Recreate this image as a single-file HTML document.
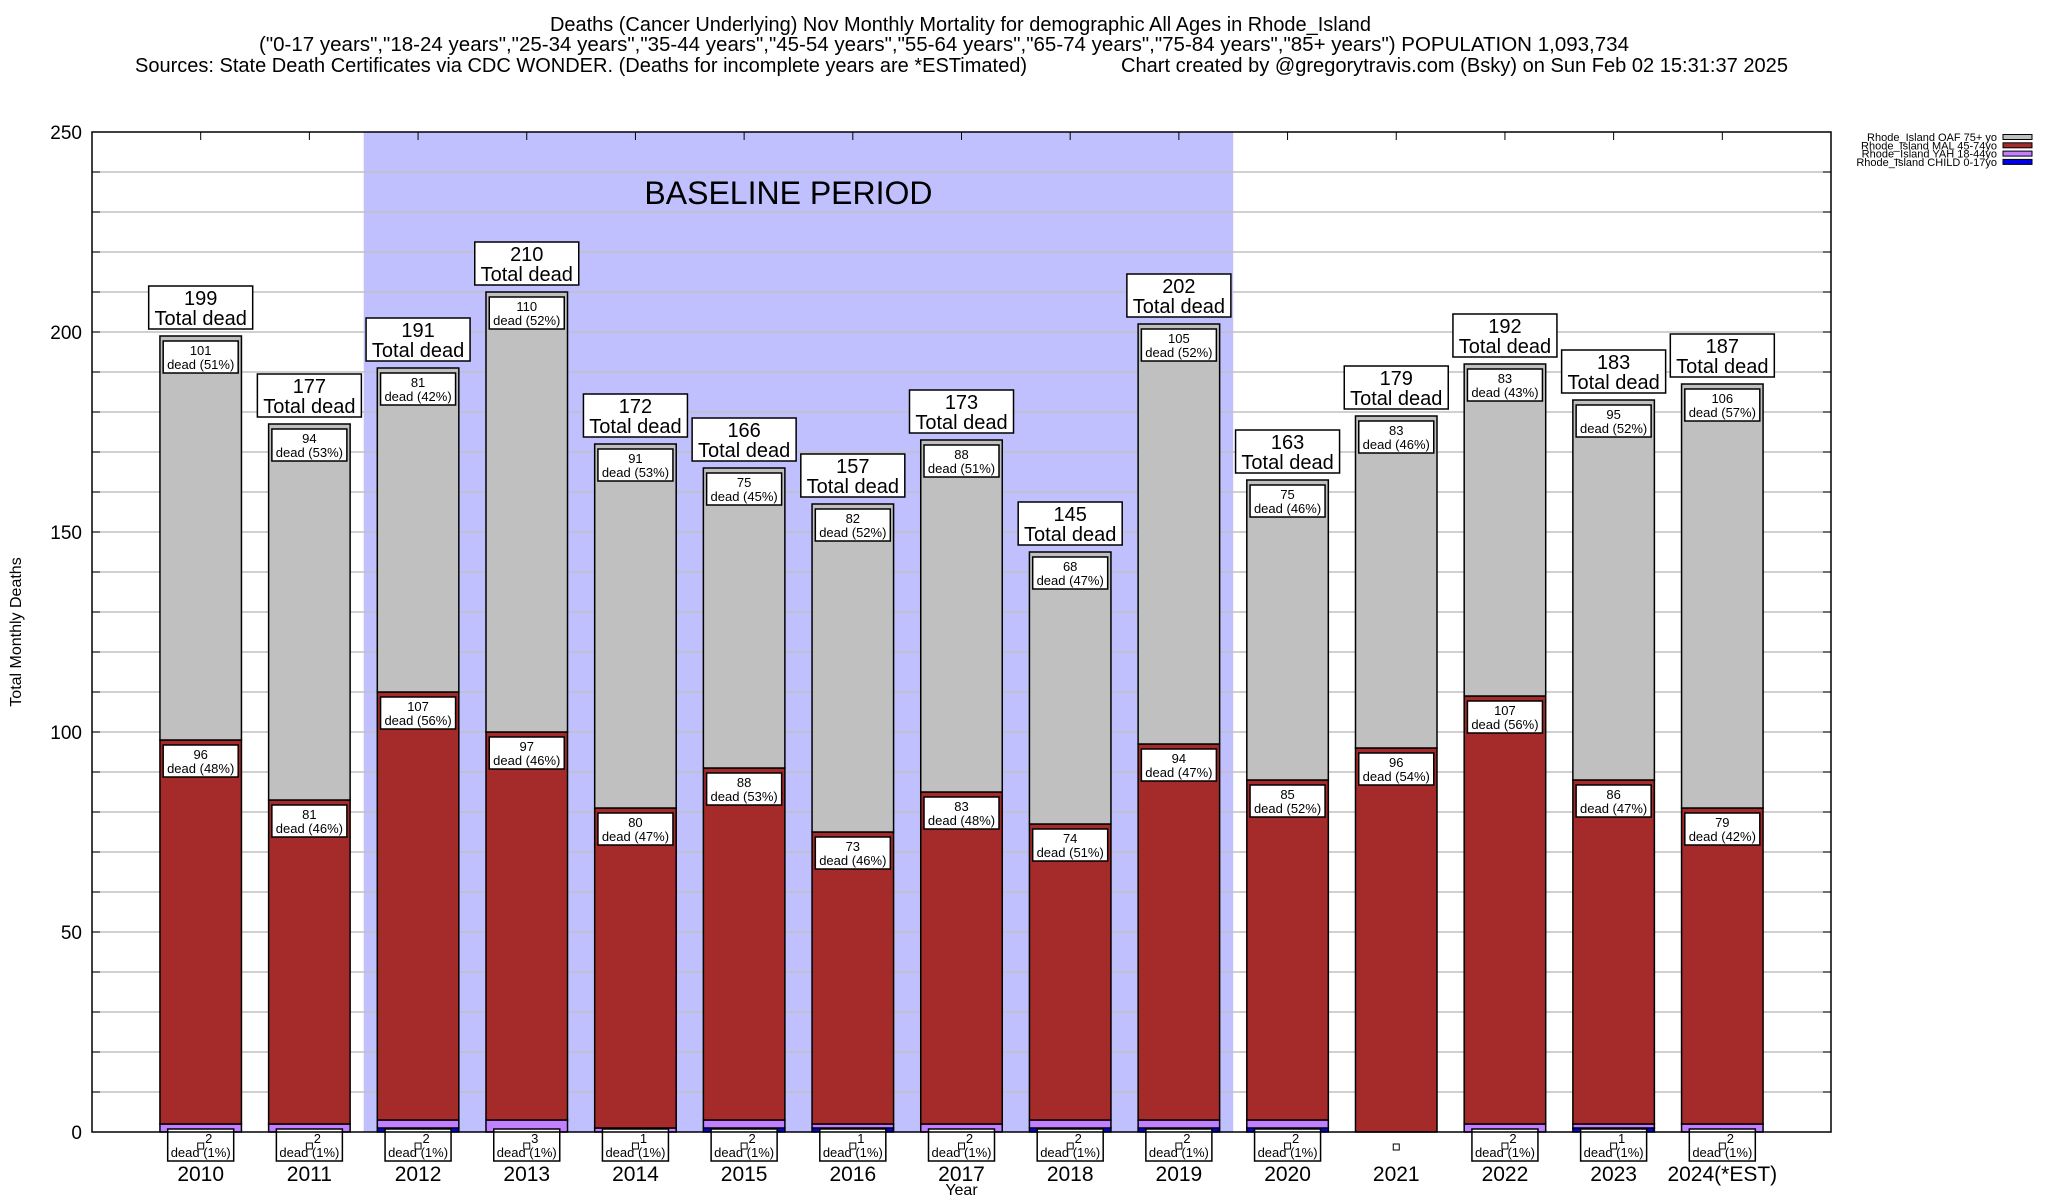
<!DOCTYPE html>
<html><head><meta charset="utf-8"><style>
body{margin:0;background:#fff;}
svg{display:block;font-family:"Liberation Sans",sans-serif;}
</style></head><body>
<svg id="chart" width="2048" height="1200" viewBox="0 0 2048 1200" xmlns="http://www.w3.org/2000/svg">
<g font-size="20" fill="#000">
<text x="550" y="31" textLength="821" lengthAdjust="spacingAndGlyphs">Deaths (Cancer Underlying) Nov Monthly Mortality for demographic All Ages in Rhode_Island</text>
<text x="259" y="51" textLength="1370" lengthAdjust="spacingAndGlyphs">("0-17 years","18-24 years","25-34 years","35-44 years","45-54 years","55-64 years","65-74 years","75-84 years","85+ years") POPULATION 1,093,734</text>
<text x="135" y="72" textLength="892" lengthAdjust="spacingAndGlyphs">Sources: State Death Certificates via CDC WONDER. (Deaths for incomplete years are *ESTimated)</text>
<text x="1121" y="72" textLength="667" lengthAdjust="spacingAndGlyphs">Chart created by @gregorytravis.com (Bsky) on Sun Feb 02 15:31:37 2025</text>
</g>
<g id="plot"></g>
</svg>
<script>
const years=["2010","2011","2012","2013","2014","2015","2016","2017","2018","2019","2020","2021","2022","2023","2024(*EST)"];
const child=[0,0,1,0,0,1,1,0,1,1,1,0,0,1,0];
const yah=[2,2,2,3,1,2,1,2,2,2,2,0,2,1,2];
const mal=[96,81,107,97,80,88,73,83,74,94,85,96,107,86,79];
const oaf=[101,94,81,110,91,75,82,88,68,105,75,83,83,95,106];
const yTicks=[0,50,100,150,200,250];
const baselineStart=2, baselineEnd=9;

const NS="http://www.w3.org/2000/svg";
const L=92,R=1831,T=132,B=1132,YMAX=250;
const step=(R-L)/(years.length+1);
const bw=step*0.75;
const X=i=>L+(i+1)*step;
const Y=v=>B-(v/YMAX)*(B-T);
const g=document.getElementById('plot');
function mk(tag,attrs,parent){const e=document.createElementNS(NS,tag);for(const k in attrs)e.setAttribute(k,attrs[k]);(parent||g).appendChild(e);return e;}

const bg=mk('rect',{x:L,y:T,width:R-L,height:B-T,fill:'#fff'});


const bs=mk('rect',{x:X(baselineStart)-step/2,y:T,width:(baselineEnd-baselineStart+1)*step,height:B-T,fill:'#c0c0ff'});


for(let v=10;v<YMAX;v+=10){
 const l=mk('line',{x1:L,x2:R,y1:Y(v),y2:Y(v),stroke:'#c0c0c0','stroke-width':1.5});
 
 
 const t1=mk('line',{x1:L,x2:L+8,y1:Y(v),y2:Y(v),stroke:'#000','stroke-width':1});
 
 
 const t2=mk('line',{x1:R-8,x2:R,y1:Y(v),y2:Y(v),stroke:'#000','stroke-width':1});
 
 
}
const bl=mk('text',{x:(X(baselineStart)+X(baselineEnd))/2-10,y:204,'font-size':32,'text-anchor':'middle'});
bl.textContent='BASELINE PERIOD';



yTicks.forEach(v=>{
 const t=mk('text',{x:L-10,y:Y(v)+7,'font-size':19,'text-anchor':'end'});
 t.textContent=v;
 
 
});

function segLabel(cx,ytop,val,pct){
 const grp=mk('g',{});
 
 
 mk('rect',{x:cx-37.5,y:ytop+5,width:75,height:32,fill:'#fff',stroke:'#000','stroke-width':1.5},grp);
 const a=mk('text',{x:cx,y:ytop+19,'font-size':13,'text-anchor':'middle'},grp);a.textContent=val;
 const b=mk('text',{x:cx,y:ytop+33,'font-size':13,'text-anchor':'middle'},grp);b.textContent='dead ('+pct+'%)';
}

years.forEach((yr,i)=>{
 const cx=X(i),x0=cx-bw/2;
 const total=child[i]+yah[i]+mal[i]+oaf[i];
 const segs=[[child[i],'#0000ee','bar-child'],[yah[i],'#c080ff','bar-yah'],[mal[i],'#a52a2a','bar-mal'],[oaf[i],'#c0c0c0','bar-oaf']];
 let base=0;
 segs.forEach(s=>{
  if(s[0]>0){
   const r=mk('rect',{x:x0,y:Y(base+s[0]),width:bw,height:Y(base)-Y(base+s[0]),fill:s[1],stroke:'#000','stroke-width':1.5});
   
   
  }
  base+=s[0];
 });
 segLabel(cx,Y(total),oaf[i],Math.round(oaf[i]/total*100));
 segLabel(cx,Y(child[i]+yah[i]+mal[i]),mal[i],Math.round(mal[i]/total*100));
 const yg=mk('g',{});
 
 
 if(yah[i]>0){
  mk('rect',{x:cx-33,y:B-3,width:66,height:32,fill:'#fff',stroke:'#000','stroke-width':1.5},yg);
  const a=mk('text',{x:cx+8,y:B+11,'font-size':13,'text-anchor':'middle'},yg);a.textContent=yah[i];
  const b=mk('text',{x:cx,y:B+25,'font-size':13,'text-anchor':'middle'},yg);b.textContent='dead  ('+Math.round(yah[i]/total*100)+'%)';
  mk('rect',{x:cx-3,y:B+11,width:6,height:6,fill:'#fff',stroke:'#000','stroke-width':1},yg);
 } else {
  mk('rect',{x:cx-3,y:B+12,width:6,height:6,fill:'#fff',stroke:'#000','stroke-width':1},yg);
 }
 const tg=mk('g',{});
 
 
 mk('rect',{x:cx-52,y:Y(total)-50,width:104,height:43,fill:'#fff',stroke:'#000','stroke-width':1.5},tg);
 const a=mk('text',{x:cx,y:Y(total)-31,'font-size':20,'text-anchor':'middle'},tg);a.textContent=total;
 const b=mk('text',{x:cx,y:Y(total)-11,'font-size':20,'text-anchor':'middle'},tg);b.textContent='Total dead';
 const tk=mk('line',{x1:cx,x2:cx,y1:T,y2:T+8,stroke:'#000','stroke-width':1});
 
 
 const xl=mk('text',{x:cx,y:B+49,'font-size':21,'text-anchor':'middle'});
 xl.textContent=yr;
 
 
});

const fr=mk('rect',{x:L,y:T,width:R-L,height:B-T,fill:'none',stroke:'#000','stroke-width':1.5});



const xt=mk('text',{x:(L+R)/2,y:1195,'font-size':16,'text-anchor':'middle'});
xt.textContent='Year';


const yt=mk('text',{x:0,y:0,'font-size':16,'text-anchor':'middle',transform:'translate(21,632) rotate(-90)'});
yt.textContent='Total Monthly Deaths';



const legNames=['Rhode_Island OAF 75+ yo','Rhode_Island MAL 45-74yo','Rhode_Island YAH 18-44yo','Rhode_Island CHILD 0-17yo'];
const legColors=['#c0c0c0','#a52a2a','#c080ff','#0000ee'];
legNames.forEach((n,k)=>{
 const lg=mk('g',{});
 
 
 const t=mk('text',{x:1997,y:141+k*8.3,'font-size':11,'text-anchor':'end'},lg);t.textContent=n;
 mk('rect',{x:2003,y:134.5+k*8.3,width:29,height:5,fill:legColors[k],stroke:'#000','stroke-width':1},lg);
});
</script>
</body></html>
